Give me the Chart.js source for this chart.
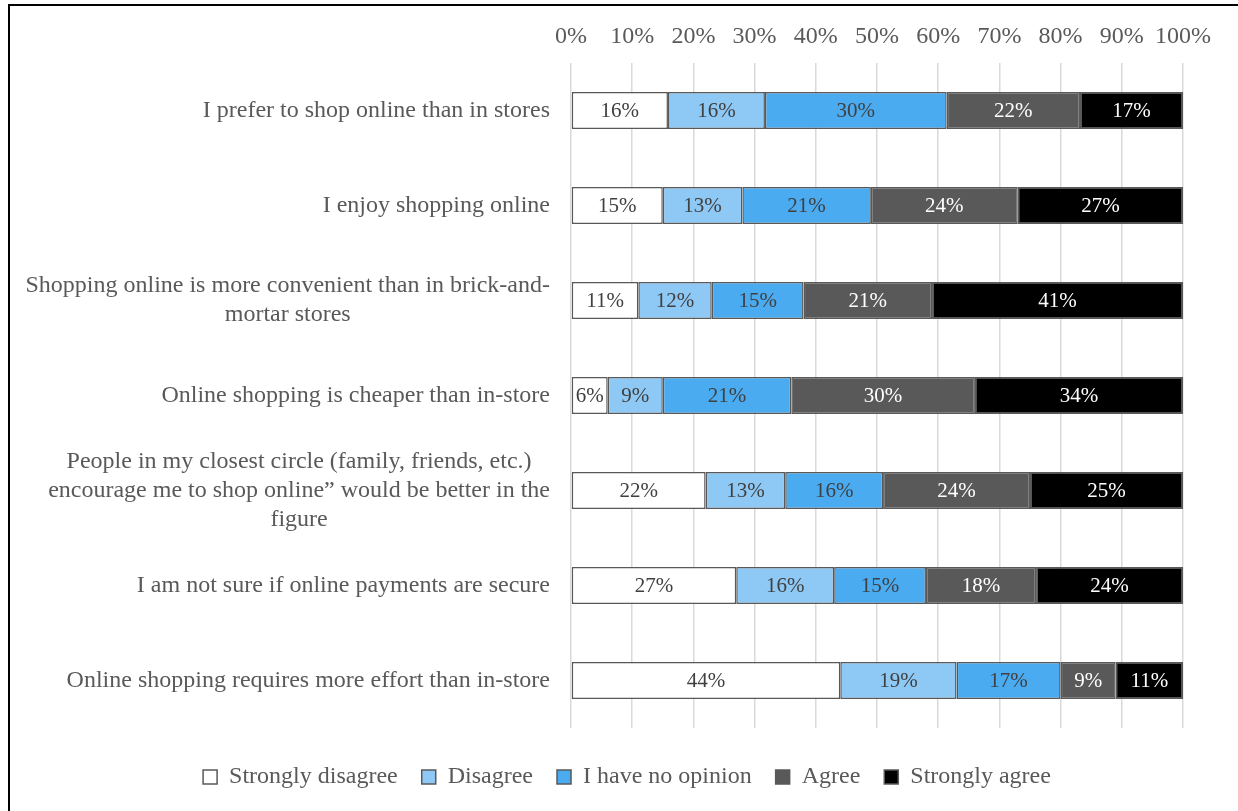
<!DOCTYPE html>
<html>
<head>
<meta charset="utf-8">
<script src="https://cdn.jsdelivr.net/npm/chart.js@4.4.1/dist/chart.umd.min.js"></script>
<style>
    html, body { margin: 0; padding: 0; background: #fff; }
    #frame { position: absolute; left: 8px; top: 4px; width: 1400px; height: 1000px; border: 2px solid #000; }
    #wrap { position: absolute; left: 0; top: 0; width: 1238px; height: 811px; }
</style>
</head>
<body>
<div id="frame"></div>
<div id="wrap"><canvas id="surveyChart"></canvas></div>
<script>
const statements = [
    "I prefer to shop online than in stores",
    "I enjoy shopping online",
    ["Shopping online is more convenient than in brick-and-", "mortar stores"],
    "Online shopping is cheaper than in-store",
    ["People in my closest circle (family, friends, etc.)", "encourage me to shop online\u201d would be better in the", "figure"],
    "I am not sure if online payments are secure",
    "Online shopping requires more effort than in-store",
];
const answerLabels = ["Strongly disagree", "Disagree", "I have no opinion", "Agree", "Strongly agree"];
const stronglyDisagree = [16, 15, 11, 6, 22, 27, 44];
const disagree = [16, 13, 12, 9, 13, 16, 19];
const noOpinion = [30, 21, 15, 21, 16, 15, 17];
const agree = [22, 24, 21, 30, 24, 18, 9];
const stronglyAgree = [17, 27, 41, 34, 25, 24, 11];
const percentTicks = [0, 10, 20, 30, 40, 50, 60, 70, 80, 90, 100];

const fillColors = ["#ffffff", "#8ec8f5", "#4aabf1", "#595959", "#000000"];
const textColors = ["#404040", "#404040", "#404040", "#ffffff", "#ffffff"];
const serif = '"Liberation Serif", "Times New Roman", serif';

document.addEventListener("DOMContentLoaded", function () {
    const series = [stronglyDisagree, disagree, noOpinion, agree, stronglyAgree];
    // rows don't always add up to exactly 100, so scale each row to 100%
    const rowTotals = statements.map((_, i) => series.reduce((s, arr) => s + arr[i], 0));

    const datasets = series.map((values, k) => ({
        label: answerLabels[k],
        data: values.map((v, i) => v / rowTotals[i] * 100),
        shown: values,
        textColor: textColors[k],
        backgroundColor: fillColors[k],
        borderColor: "#595959",
        borderWidth: 1.5,
        borderSkipped: false,
        categoryPercentage: 1,
        barPercentage: 0.39,
    }));

    const segmentLabels = {
        id: "segmentLabels",
        afterDatasetsDraw(chart) {
            const ctx = chart.ctx;
            ctx.save();
            ctx.font = "21px " + serif;
            ctx.textAlign = "center";
            ctx.textBaseline = "middle";
            chart.data.datasets.forEach((ds, i) => {
                chart.getDatasetMeta(i).data.forEach((bar, j) => {
                    const p = bar.getCenterPoint();
                    ctx.fillStyle = ds.textColor;
                    ctx.fillText(ds.shown[j] + "%", p.x, p.y + 1);
                });
            });
            ctx.restore();
        },
    };

    // category labels: block right aligned, lines centred inside the block
    const statementLabels = {
        id: "statementLabels",
        afterDraw(chart) {
            const ctx = chart.ctx;
            const yScale = chart.scales.y;
            const right = chart.chartArea.left - 21;
            const lh = 28.8;
            ctx.save();
            ctx.font = "24px " + serif;
            ctx.fillStyle = "#595959";
            ctx.textAlign = "center";
            ctx.textBaseline = "middle";
            chart.data.labels.forEach((label, i) => {
                const lines = Array.isArray(label) ? label : [label];
                const blockWidth = Math.max(...lines.map(t => ctx.measureText(t).width));
                const cx = right - blockWidth / 2;
                const cy = yScale.getPixelForTick(i);
                lines.forEach((t, k) => {
                    ctx.fillText(t, cx, cy + (k - (lines.length - 1) / 2) * lh);
                });
            });
            ctx.restore();
        },
    };

    new Chart(document.getElementById("surveyChart"), {
        type: "bar",
        data: {labels: statements, datasets},
        plugins: [segmentLabels, statementLabels],
        options: {
            indexAxis: "y",
            responsive: true,
            maintainAspectRatio: false,
            animation: false,
            // left padding also moves the centred legend over a bit
            layout: {padding: {top: 0, right: 55, bottom: 12, left: 71}},
            plugins: {
                tooltip: {enabled: false},
                legend: {
                    position: "bottom",
                    // empty title only used as spacer above the items
                    title: {display: true, text: "", padding: 0, font: {size: 13, lineHeight: 1}},
                    labels: {
                        boxWidth: 14,
                        boxHeight: 14,
                        padding: 24,
                        color: "#595959",
                        font: {family: serif, size: 24},
                    },
                },
            },
            scales: {
                x: {
                    position: "top",
                    stacked: true,
                    min: 0,
                    max: 100,
                    afterBuildTicks: scale => {
                        scale.ticks = percentTicks.map(v => ({value: v}));
                    },
                    afterFit: scale => { scale.height = 63; },
                    grid: {color: "#d9d9d9", lineWidth: 1.5, drawTicks: false},
                    border: {display: false},
                    ticks: {
                        padding: 12,
                        autoSkip: false,
                        maxRotation: 0,
                        color: "#595959",
                        font: {family: serif, size: 24},
                        callback: v => v + "%",
                    },
                },
                y: {
                    stacked: true,
                    afterFit: scale => { scale.width = 500; },
                    grid: {display: false, drawTicks: false},
                    border: {display: false},
                    ticks: {display: false},
                },
            },
        },
    });
});
</script>
</body>
</html>
